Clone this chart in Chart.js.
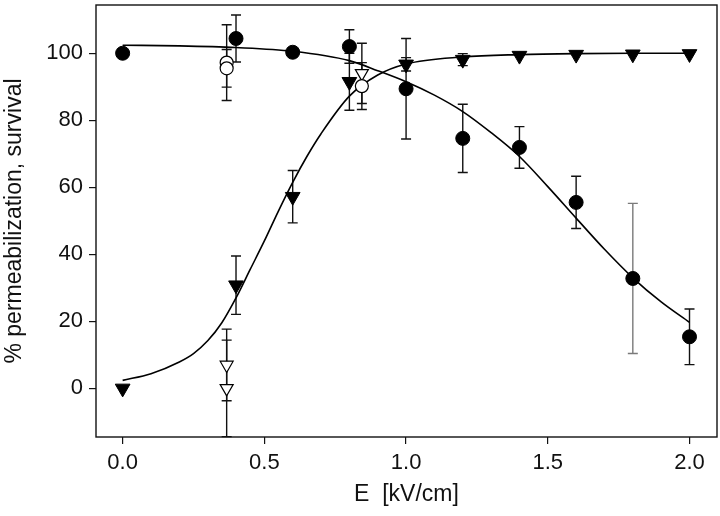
<!DOCTYPE html>
<html>
<head>
<meta charset="utf-8">
<script src="https://cdn.jsdelivr.net/npm/chart.js@4"></script>
<style>
  html, body { margin: 0; padding: 0; background: #fff; }
  #wrap { width: 720px; height: 516px; }
</style>
</head>
<body>
<div id="wrap"><canvas id="chart"></canvas></div>
<script>
// Datos medidos (puntos llenos)
const fieldE = [0, 0.4, 0.6, 0.8, 1.0, 1.2, 1.4, 1.6, 1.8, 2.0];
const survival = [100, 104.4, 100.3, 102, 89.4, 74.6, 71.9, 55.5, 32.8, 15.4];
const survivalErr = [0, 7, 0, 5, 15, 10.2, 6.2, 7.8, 22.4, 8.3];
const permeab = [0, 30.8, 57.2, 91.5, 96.7, 98.1, 99.3, 99.6, 99.7, 99.8];
const permeabErr = [0, 8.7, 7.8, 8.5, 2, 1.8, 0, 0, 0, 0];

// Puntos abiertos
const openSurvE = [0.367, 0.367, 0.844];
const openSurv = [97.2, 95.5, 90.2];
const openSurvErr = [11.3, 5.6, 7];
const openPermE = [0.367, 0.367, 0.844];
const openPerm = [7, 0, 94];
const openPermErr = [10.7, 14.4, 9];

// Curvas de ajuste
const fitSurvE = [0, 0.2, 0.4, 0.6, 0.8, 0.9, 1.0, 1.1, 1.2, 1.3, 1.4, 1.5, 1.6, 1.7, 1.8, 1.9, 2.0];
const fitSurv = [102.4, 102.2, 101.7, 100.6, 97.8, 94.8, 91.5, 87.5, 82.6, 76.3, 69.2, 60.2, 50.8, 41.5, 33, 25.8, 19.7];
const fitPermE = [0, 0.1, 0.2, 0.25, 0.3, 0.35, 0.4, 0.45, 0.5, 0.55, 0.6, 0.65, 0.7, 0.8, 0.9, 1.0, 1.2, 1.4, 1.6, 1.8, 2.0];
const fitPerm = [2.4, 4.4, 7.9, 10.4, 14.2, 19.6, 27, 35.5, 44, 53, 61.5, 69.2, 76, 87.2, 93.5, 96.8, 98.9, 99.6, 99.9, 100, 100];

// Ejes
const xTicks = [0, 0.5, 1.0, 1.5, 2.0];
const yTicks = [0, 20, 40, 60, 80, 100];
const xMin = -0.094, xMax = 2.097;
const yMin = -14.5, yMax = 114.4;

const toPts = (xs, ys) => xs.map((x, i) => ({ x: x, y: ys[i] }));
const FONT = "'Liberation Sans', Arial, sans-serif";

// Barras de error
const errorBars = {
  id: 'errorBars',
  beforeDatasetsDraw(chart) {
    const { ctx, scales: { x, y } } = chart;
    chart.data.datasets.forEach(ds => {
      if (!ds.errors) return;
      ds.data.forEach((p, j) => {
        const e = ds.errors[j];
        if (!e) return;
        const px = x.getPixelForValue(p.x);
        const top = y.getPixelForValue(p.y + e);
        const bot = y.getPixelForValue(p.y - e);
        ctx.save();
        ctx.strokeStyle = (ds.greyAt === p.x) ? '#7a7a7a' : '#111';
        ctx.lineWidth = 1.4;
        ctx.beginPath();
        ctx.moveTo(px, top); ctx.lineTo(px, bot);
        ctx.moveTo(px - 5, top); ctx.lineTo(px + 5, top);
        ctx.moveTo(px - 5, bot); ctx.lineTo(px + 5, bot);
        ctx.stroke();
        ctx.restore();
      });
    });
  }
};

// Marco
const frame = {
  id: 'frame',
  beforeDatasetsDraw(chart) {
    const { ctx, chartArea: a } = chart;
    ctx.save();
    ctx.strokeStyle = '#111';
    ctx.lineWidth = 1.4;
    ctx.strokeRect(a.left, a.top, a.right - a.left, a.bottom - a.top);
    ctx.restore();
  }
};

const ctx = document.getElementById('chart').getContext('2d');
const chart = new Chart(ctx, {
  type: 'scatter',
  data: {
    datasets: [
      {
        label: 'survival',
        data: toPts(fieldE, survival),
        errors: survivalErr,
        greyAt: 1.8,
        pointStyle: 'circle',
        pointRadius: 7,
        backgroundColor: '#000',
        borderColor: '#000',
        borderWidth: 1,
        order: 1
      },
      {
        label: 'permeabilization',
        data: toPts(fieldE, permeab),
        errors: permeabErr,
        pointStyle: 'triangle',
        rotation: 180,
        pointRadius: 8.5,
        backgroundColor: '#000',
        borderColor: '#000',
        borderWidth: 1,
        order: 1
      },
      {
        label: 'survival (open)',
        data: toPts(openSurvE, openSurv),
        errors: openSurvErr,
        pointStyle: 'circle',
        pointRadius: 6.5,
        backgroundColor: '#fff',
        borderColor: '#000',
        borderWidth: 1.2,
        order: 2
      },
      {
        label: 'permeabilization (open)',
        data: toPts(openPermE, openPerm),
        errors: openPermErr,
        pointStyle: 'triangle',
        rotation: 180,
        pointRadius: 7.5,
        backgroundColor: '#fff',
        borderColor: '#000',
        borderWidth: 1.2,
        order: 2
      },
      {
        label: 'fit survival',
        data: toPts(fitSurvE, fitSurv),
        showLine: true,
        pointRadius: 0,
        borderColor: '#000',
        borderWidth: 1.6,
        cubicInterpolationMode: 'monotone',
        order: 3
      },
      {
        label: 'fit permeabilization',
        data: toPts(fitPermE, fitPerm),
        showLine: true,
        pointRadius: 0,
        borderColor: '#000',
        borderWidth: 1.6,
        cubicInterpolationMode: 'monotone',
        order: 3
      }
    ]
  },
  options: {
    responsive: true,
    maintainAspectRatio: false,
    animation: false,
    devicePixelRatio: 1,
    layout: { autoPadding: false, padding: { top: 5, right: 3, left: 0, bottom: 0 } },
    plugins: {
      legend: { display: false },
      tooltip: { enabled: false }
    },
    scales: {
      x: {
        type: 'linear',
        min: xMin,
        max: xMax,
        border: { display: false },
        grid: { drawOnChartArea: false, drawTicks: true, tickLength: 7, color: '#111', lineWidth: 1.2 },
        afterBuildTicks: s => { s.ticks = xTicks.map(v => ({ value: v })); },
        afterFit: s => { s.height = 79; s.paddingLeft = 0; s.paddingRight = 0; },
        ticks: {
          color: '#111',
          padding: 6,
          font: { family: FONT, size: 22 },
          callback: v => v.toFixed(1)
        },
        title: {
          display: true,
          text: 'E  [kV/cm]',
          color: '#111',
          font: { family: FONT, size: 23 },
          padding: { top: 0, bottom: 8 }
        }
      },
      y: {
        type: 'linear',
        min: yMin,
        max: yMax,
        border: { display: false },
        grid: { drawOnChartArea: false, drawTicks: true, tickLength: 7, color: '#111', lineWidth: 1.2 },
        afterBuildTicks: s => { s.ticks = yTicks.map(v => ({ value: v })); },
        afterFit: s => { s.width = 96; s.paddingTop = 0; s.paddingBottom = 0; },
        ticks: {
          color: '#111',
          padding: 6,
          font: { family: FONT, size: 22 },
          callback: v => String(v)
        },
        title: {
          display: true,
          text: '% permeabilization, survival',
          color: '#111',
          font: { family: FONT, size: 23 },
          padding: { top: 1, bottom: 0 }
        }
      }
    }
  },
  plugins: [frame, errorBars]
});
</script>
</body>
</html>
